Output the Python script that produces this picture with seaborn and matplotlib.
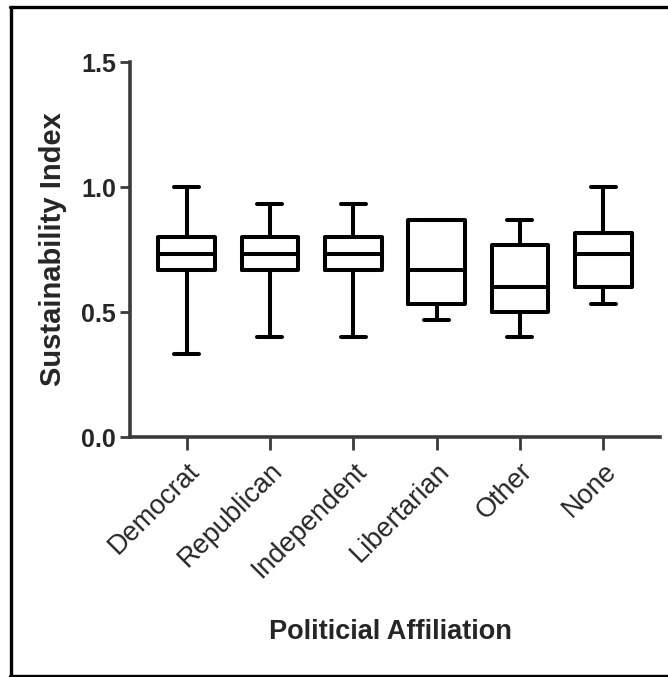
import matplotlib
matplotlib.use("Agg")
import matplotlib.pyplot as plt
from matplotlib.lines import Line2D
import seaborn as sns
import pandas as pd

# Five-number summaries (min, Q1, median, Q3, max)
categories = ["Democrat", "Republican", "Independent", "Libertarian", "Other", "None"]
mins    = [0.333, 0.400, 0.400, 0.467, 0.400, 0.533]
q1s     = [0.667, 0.667, 0.667, 0.533, 0.500, 0.600]
medians = [0.733, 0.733, 0.733, 0.667, 0.600, 0.733]
q3s     = [0.800, 0.800, 0.800, 0.867, 0.767, 0.817]
maxs    = [1.000, 0.933, 0.933, 0.867, 0.867, 1.000]

rows = []
for c, a, b, m, d, e in zip(categories, mins, q1s, medians, q3s, maxs):
    for v in (a, b, m, d, e):
        rows.append({"Affiliation": c, "Index": v})
df = pd.DataFrame(rows)

sns.set_style("white")
plt.rcParams["font.family"] = ["Liberation Sans", "DejaVu Sans"]

fig = plt.figure(figsize=(6.68, 6.77), dpi=100)
ax = fig.add_axes([0.1946, 0.3545, 0.7934, 0.5539])

sns.boxplot(data=df, x="Affiliation", y="Index", order=categories,
            whis=(0, 100), width=0.68, fill=False, color="black",
            linewidth=2.9, capwidths=0.3, ax=ax)

ax.set_ylim(0, 1.5)
ax.set_xlim(-0.68, 5.68)
ax.set_yticks([0.0, 0.5, 1.0, 1.5])
ax.set_yticklabels(["0.0", "0.5", "1.0", "1.5"], fontsize=18, fontweight="bold")
ax.set_xticks(range(len(categories)))
ax.set_xticklabels(categories, rotation=45, ha="right", rotation_mode="anchor",
                   fontsize=19.5)
ax.set_ylabel("Sustainability Index", fontsize=21, fontweight="bold")
ax.yaxis.set_label_coords(-0.118, 0.502)
ax.set_xlabel("Politicial Affiliation", fontsize=19.5, fontweight="bold")
ax.xaxis.set_label_coords(0.492, -0.485)

for side in ["top", "right"]:
    ax.spines[side].set_visible(False)
for side in ["left", "bottom"]:
    ax.spines[side].set_color("#3a3a3a")
    ax.spines[side].set_linewidth(2.6)
ax.tick_params(axis="y", direction="out", length=7, width=2.0, color="#3a3a3a",
               left=True, pad=3)
ax.tick_params(axis="x", direction="out", length=9, width=2.0, color="#3a3a3a",
               bottom=True, pad=6)

# frame around the figure (left, top, bottom)
H = 677.0
W = 668.0
fig.add_artist(Line2D([10.5 / W, 10.5 / W], [1 - 6.5 / H, 1 - 676 / H],
                      transform=fig.transFigure, color="black", lw=2.4))
fig.add_artist(Line2D([9.5 / W, 1.0], [1 - 6.5 / H, 1 - 6.5 / H],
                      transform=fig.transFigure, color="black", lw=2.4))
fig.add_artist(Line2D([9.5 / W, 1.0], [1 - 676 / H, 1 - 676 / H],
                      transform=fig.transFigure, color="black", lw=2.4))

fig.savefig("out.png", dpi=100)
